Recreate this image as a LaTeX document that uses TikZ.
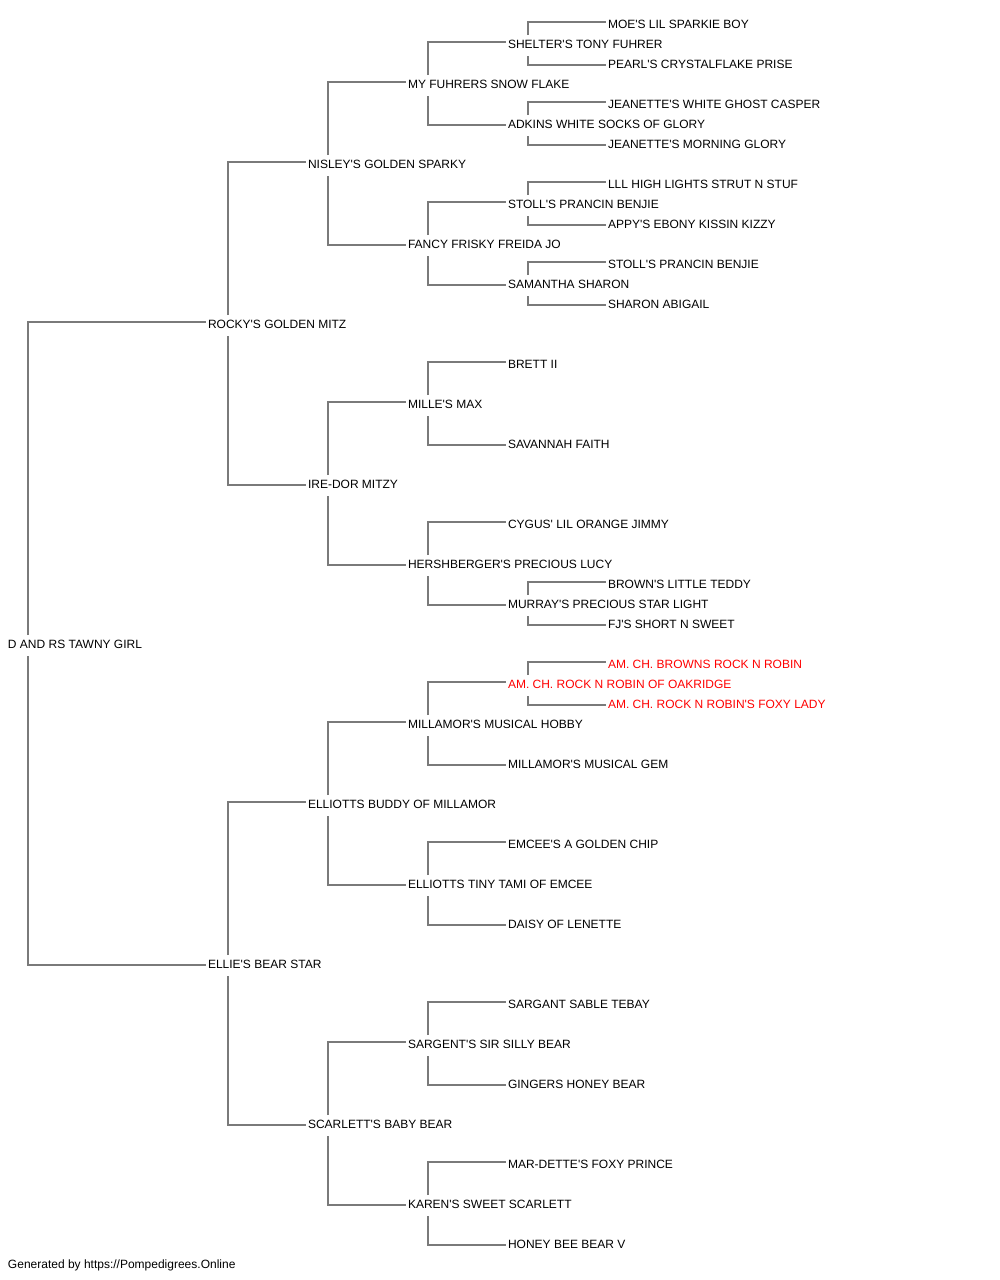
\documentclass[tikz,border=0pt]{standalone}
\usepackage{fontspec}
\setmainfont[Ligatures=TeXOff]{Liberation Sans}
\usetikzlibrary{calc}
\definecolor{linegray}{HTML}{7A7A7A}
\definecolor{redtext}{HTML}{FF0000}
\tikzset{
  pn/.style={anchor=base west, inner sep=0pt, outer sep=0pt, font=\fontsize{12}{14}\selectfont, text=black},
  pnred/.style={pn, text=redtext},
  link/.style={draw=linegray, line width=1.25pt},
}
\newcommand\pedlink[3]{%
  \draw[link] ($(#1.base west)+(20,-13.3)$) |- ($(#2.base west)+(-2.5,-6.3)$);
  \draw[link] ($(#1.base west)+(20,7.7)$) |- ($(#3.base west)+(-2.5,-3.3)$);
}
\begin{document}
\begin{tikzpicture}[x=1pt,y=-1pt]
\useasboundingbox (0,0) rectangle (1000,1280);
% gen 0
\node[pn] (a) at (8,648.3) {D AND RS TAWNY GIRL};
% gen 1
\node[pn] (b1) at (208,328.3) {ROCKY'S GOLDEN MITZ};
\node[pn] (b2) at (208,968.3) {ELLIE'S BEAR STAR};
% gen 2
\node[pn] (c1) at (308,168.3) {NISLEY'S GOLDEN SPARKY};
\node[pn] (c2) at (308,488.3) {IRE-DOR MITZY};
\node[pn] (c3) at (308,808.3) {ELLIOTTS BUDDY OF MILLAMOR};
\node[pn] (c4) at (308,1128.3) {SCARLETT'S BABY BEAR};
% gen 3
\node[pn] (d1) at (408,88.3) {MY FUHRERS SNOW FLAKE};
\node[pn] (d2) at (408,248.3) {FANCY FRISKY FREIDA JO};
\node[pn] (d3) at (408,408.3) {MILLE'S MAX};
\node[pn] (d4) at (408,568.3) {HERSHBERGER'S PRECIOUS LUCY};
\node[pn] (d5) at (408,728.3) {MILLAMOR'S MUSICAL HOBBY};
\node[pn] (d6) at (408,888.3) {ELLIOTTS TINY TAMI OF EMCEE};
\node[pn] (d7) at (408,1048.3) {SARGENT'S SIR SILLY BEAR};
\node[pn] (d8) at (408,1208.3) {KAREN'S SWEET SCARLETT};
% gen 4
\node[pn] (e1) at (508,48.3) {SHELTER'S TONY FUHRER};
\node[pn] (e2) at (508,128.3) {ADKINS WHITE SOCKS OF GLORY};
\node[pn] (e3) at (508,208.3) {STOLL'S PRANCIN BENJIE};
\node[pn] (e4) at (508,288.3) {SAMANTHA SHARON};
\node[pn] (e5) at (508,368.3) {BRETT II};
\node[pn] (e6) at (508,448.3) {SAVANNAH FAITH};
\node[pn] (e7) at (508,528.3) {CYGUS' LIL ORANGE JIMMY};
\node[pn] (e8) at (508,608.3) {MURRAY'S PRECIOUS STAR LIGHT};
\node[pnred] (e9) at (508,688.3) {AM. CH. ROCK N ROBIN OF OAKRIDGE};
\node[pn] (e10) at (508,768.3) {MILLAMOR'S MUSICAL GEM};
\node[pn] (e11) at (508,848.3) {EMCEE'S A GOLDEN CHIP};
\node[pn] (e12) at (508,928.3) {DAISY OF LENETTE};
\node[pn] (e13) at (508,1008.3) {SARGANT SABLE TEBAY};
\node[pn] (e14) at (508,1088.3) {GINGERS HONEY BEAR};
\node[pn] (e15) at (508,1168.3) {MAR-DETTE'S FOXY PRINCE};
\node[pn] (e16) at (508,1248.3) {HONEY BEE BEAR V};
% gen 5
\node[pn] (f1) at (608,28.3) {MOE'S LIL SPARKIE BOY};
\node[pn] (f2) at (608,68.3) {PEARL'S CRYSTALFLAKE PRISE};
\node[pn] (f3) at (608,108.3) {JEANETTE'S WHITE GHOST CASPER};
\node[pn] (f4) at (608,148.3) {JEANETTE'S MORNING GLORY};
\node[pn] (f5) at (608,188.3) {LLL HIGH LIGHTS STRUT N STUF};
\node[pn] (f6) at (608,228.3) {APPY'S EBONY KISSIN KIZZY};
\node[pn] (f7) at (608,268.3) {STOLL'S PRANCIN BENJIE};
\node[pn] (f8) at (608,308.3) {SHARON ABIGAIL};
\node[pn] (f15) at (608,588.3) {BROWN'S LITTLE TEDDY};
\node[pn] (f16) at (608,628.3) {FJ'S SHORT N SWEET};
\node[pnred] (f17) at (608,668.3) {AM. CH. BROWNS ROCK N ROBIN};
\node[pnred] (f18) at (608,708.3) {AM. CH. ROCK N ROBIN'S FOXY LADY};
% footer
\node[pn] (foot) at (8,1268.3) {Generated by https://Pompedigrees.Online};
% connectors
\pedlink{a}{b1}{b2}
\pedlink{b1}{c1}{c2}
\pedlink{b2}{c3}{c4}
\pedlink{c1}{d1}{d2}
\pedlink{c2}{d3}{d4}
\pedlink{c3}{d5}{d6}
\pedlink{c4}{d7}{d8}
\pedlink{d1}{e1}{e2}
\pedlink{d2}{e3}{e4}
\pedlink{d3}{e5}{e6}
\pedlink{d4}{e7}{e8}
\pedlink{d5}{e9}{e10}
\pedlink{d6}{e11}{e12}
\pedlink{d7}{e13}{e14}
\pedlink{d8}{e15}{e16}
\pedlink{e1}{f1}{f2}
\pedlink{e2}{f3}{f4}
\pedlink{e3}{f5}{f6}
\pedlink{e4}{f7}{f8}
\pedlink{e8}{f15}{f16}
\pedlink{e9}{f17}{f18}
\end{tikzpicture}
\end{document}
